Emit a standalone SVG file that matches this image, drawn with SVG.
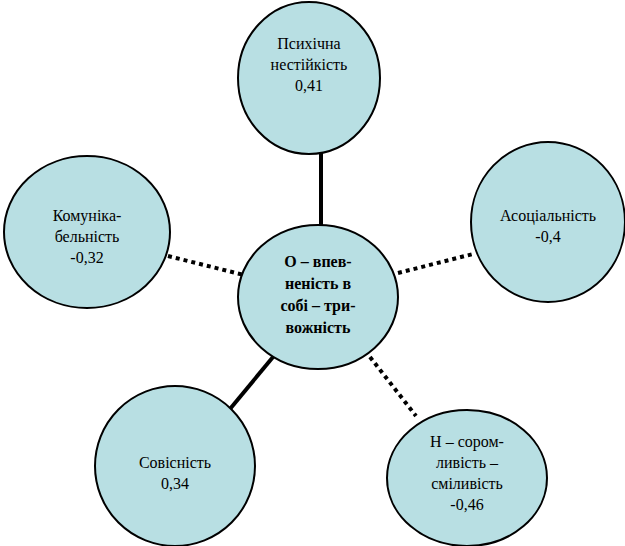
<svg xmlns="http://www.w3.org/2000/svg" width="625" height="546" viewBox="0 0 625 546">
<style>
.n{fill:#b8dfe3;stroke:#000;stroke-width:2}
.t{font-size:16px;fill:#000;text-anchor:middle}
.b{font-weight:bold}
.s{stroke:#000;stroke-width:4;fill:none}
.d{stroke:#000;stroke-width:4;stroke-dasharray:4 4;fill:none}
</style>
<rect width="625" height="546" fill="#fff"/>
<g id="connectors">
<line class="s" x1="321" y1="153" x2="321" y2="226"/>
<line class="d" x1="168" y1="256" x2="244" y2="275"/>
<line class="d" x1="398" y1="273" x2="473" y2="254"/>
<line class="d" x1="370" y1="357" x2="416" y2="416"/>
<line class="s" x1="273" y1="357" x2="225" y2="415"/>
</g>
<g font-family="Liberation Serif, serif">
<g id="center">
<ellipse class="n" cx="318" cy="297" rx="80" ry="72"/>
<text class="t b" x="318" y="267">О – впев-</text>
<text class="t b" x="318" y="289">неність в</text>
<text class="t b" x="318" y="311">собі – три-</text>
<text class="t b" x="318" y="333">вожність</text>
</g>
<g id="top">
<ellipse class="n" cx="309" cy="78" rx="71" ry="76"/>
<text class="t" x="309" y="49">Психічна</text>
<text class="t" x="309" y="70">нестійкість</text>
<text class="t" x="309" y="91">0,41</text>
</g>
<g id="left">
<ellipse class="n" cx="87" cy="232" rx="83" ry="76"/>
<text class="t" x="87" y="221">Комуніка-</text>
<text class="t" x="87" y="242">бельність</text>
<text class="t" x="87" y="263">-0,32</text>
</g>
<g id="right">
<ellipse class="n" cx="548" cy="222" rx="77" ry="80"/>
<text class="t" x="548" y="221">Асоціальність</text>
<text class="t" x="548" y="242">-0,4</text>
</g>
<g id="bottomleft">
<ellipse class="n" cx="175" cy="466" rx="80" ry="80"/>
<text class="t" x="175" y="468">Совісність</text>
<text class="t" x="175" y="489">0,34</text>
</g>
<g id="bottomright">
<ellipse class="n" cx="467" cy="478" rx="80" ry="68"/>
<text class="t" x="467" y="447">Н – сором-</text>
<text class="t" x="467" y="468">ливість –</text>
<text class="t" x="467" y="489">сміливість</text>
<text class="t" x="467" y="510">-0,46</text>
</g>
</g>
</svg>
